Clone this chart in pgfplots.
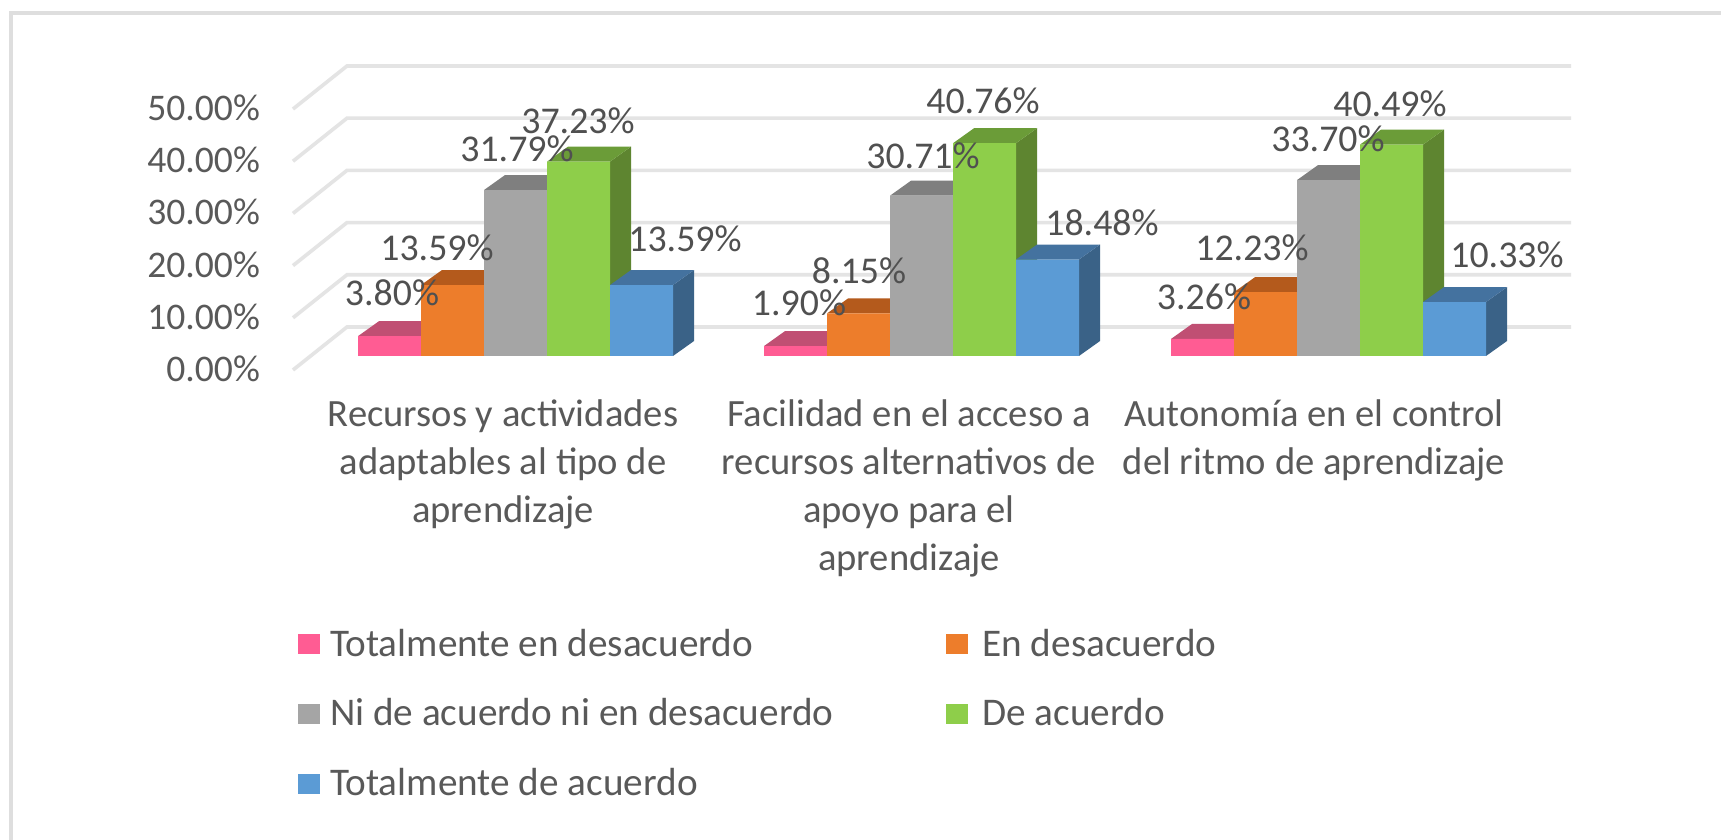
\documentclass[border=0pt]{standalone}
\usepackage{pgfplots}
\pgfplotsset{compat=1.18}
\usepackage{fontspec}
\setmainfont{Carlito}
\definecolor{txt}{HTML}{595959}
\definecolor{lab}{HTML}{505050}
\definecolor{gridc}{HTML}{E4E4E4}
\definecolor{frameC}{HTML}{DEDEDE}
\definecolor{pinkF}{HTML}{FF5C93}\definecolor{pinkT}{HTML}{C04F73}
\definecolor{oranF}{HTML}{ED7D2B}\definecolor{oranT}{HTML}{B45A1C}
\definecolor{grayF}{HTML}{A5A5A5}\definecolor{grayT}{HTML}{7F7F7F}
\definecolor{greeF}{HTML}{8ECE4A}\definecolor{greeT}{HTML}{6B9C38}\definecolor{greeS}{HTML}{5E8530}
\definecolor{blueF}{HTML}{5B9BD5}\definecolor{blueT}{HTML}{44729F}\definecolor{blueS}{HTML}{3A6287}
% 1 px of the reference = 0.5pt; y axis of bars: 5.22 px per percentage point
\pgfmathsetmacro{\dpx}{21}
\pgfmathsetmacro{\dpy}{2.87}
\pgfmathsetmacro{\bw}{63}
% top and side faces of one bar: {top colour}{side colour}{left x}{value}
\newcommand\faces[4]{%
  \pgfmathsetmacro{\xa}{#3}\pgfmathsetmacro{\xb}{#3+\bw}
  \pgfmathsetmacro{\xc}{#3+\dpx}\pgfmathsetmacro{\xd}{#3+\bw+\dpx}
  \pgfmathsetmacro{\yt}{#4+\dpy}
  \edef\tmp{\noexpand\addplot[fill=#2,draw=none,forget plot] coordinates {(\xb,0) (\xd,\dpy) (\xd,\yt) (\xb,#4)} --cycle;
  \noexpand\addplot[fill=#1,draw=none,forget plot] coordinates {(\xa,#4) (\xc,\yt) (\xd,\yt) (\xb,#4)} --cycle;}\tmp}
\newcommand\lab[3]{\node[text=lab,font=\dfont,inner sep=0pt] at (axis cs:#1,{(356-#2)/5.22}) {#3};}
\newcommand\dfont{\fontsize{18.9}{22}\selectfont}
\pgfplotsset{swatch/.style={legend image code/.code={\fill[##1] (0pt,-5pt) rectangle (11pt,5pt);}}}
\begin{document}
\begin{tikzpicture}[x=1pt,y=1pt]
\path[use as bounding box] (0,0) rectangle (860.5,420);
\fill[white] (0,0) rectangle (860.5,420);
\draw[frameC,line width=2pt] (5.5,0) -- (5.5,413.5) -- (860.5,413.5);
% walls, gridlines and the value axis
\begin{axis}[
  at={(146.5pt,235pt)},anchor=south west,
  scale only axis,width=639pt,height=130.5pt,
  xmin=293,xmax=1571,ymin=0,ymax=50,clip=false,
  axis line style={draw=none},
  major tick length=0pt,
  xtick={503,909,1314},
  xticklabels={Recursos y actividades\\adaptables al tipo de\\aprendizaje,
    Facilidad en el acceso a\\recursos alternativos de\\apoyo para el\\aprendizaje,
    Autonomía en el control\\del ritmo de aprendizaje},
  xticklabel style={align=center,text=txt,font=\fontsize{19.3}{23.9}\selectfont,yshift=-11.5pt,anchor=north},
  ytick={0,10,20,30,40,50},
  yticklabels={0.00\%,10.00\%,20.00\%,30.00\%,40.00\%,50.00\%},
  yticklabel style={text=txt,font=\fontsize{18.8}{22}\selectfont,xshift=-13pt,anchor=east,yshift=0.6pt},
]
\addplot[gridc,line width=1.8pt,forget plot] coordinates {(293,0) (347,8.24) (1571,8.24)};
\addplot[gridc,line width=1.8pt,forget plot] coordinates {(293,10) (347,18.24) (1571,18.24)};
\addplot[gridc,line width=1.8pt,forget plot] coordinates {(293,20) (347,28.24) (1571,28.24)};
\addplot[gridc,line width=1.8pt,forget plot] coordinates {(293,30) (347,38.24) (1571,38.24)};
\addplot[gridc,line width=1.8pt,forget plot] coordinates {(293,40) (347,48.24) (1571,48.24)};
\addplot[gridc,line width=1.8pt,forget plot] coordinates {(293,50) (347,58.24) (1571,58.24)};
\end{axis}
% the bars
\begin{axis}[
  at={(0pt,0pt)},anchor=south west,
  scale only axis,width=860.5pt,height=420pt,
  xmin=0,xmax=1721,ymin=-92.72,ymax=68.2,clip=false,
  hide axis,
  legend columns=2,
  legend cell align=left,
  legend style={at={(axis cs:298,-51.5)},anchor=north west,draw=none,fill=none,
    font=\fontsize{19.6}{22}\selectfont,text=txt,inner sep=0pt,outer sep=0pt,
    row sep=15.8pt,
    /tikz/every odd column/.append style={column sep=3pt},
    /tikz/every even column/.append style={column sep=2pt}},
]
% Totalmente en desacuerdo
\faces{pinkT}{pinkT}{358}{3.80}\faces{pinkT}{pinkT}{764}{1.90}\faces{pinkT}{pinkT}{1171}{3.26}
\addplot[ybar,bar width=31.5pt,bar shift=0pt,fill=pinkF,draw=none,swatch] coordinates {(389.5,3.80) (795.5,1.90) (1202.5,3.26)};
\addlegendentry{\makebox[304pt][l]{Totalmente en desacuerdo}}
% En desacuerdo
\faces{oranT}{oranT}{421}{13.59}\faces{oranT}{oranT}{827}{8.15}\faces{oranT}{oranT}{1234}{12.23}
\addplot[ybar,bar width=31.5pt,bar shift=0pt,fill=oranF,draw=none,swatch] coordinates {(452.5,13.59) (858.5,8.15) (1265.5,12.23)};
\addlegendentry{\hspace{2.2pt}En desacuerdo}
% Ni de acuerdo ni en desacuerdo
\faces{grayT}{grayT}{484}{31.79}\faces{grayT}{grayT}{890}{30.71}\faces{grayT}{grayT}{1297}{33.70}
\addplot[ybar,bar width=31.5pt,bar shift=0pt,fill=grayF,draw=none,swatch] coordinates {(515.5,31.79) (921.5,30.71) (1328.5,33.70)};
\addlegendentry{\makebox[304pt][l]{Ni de acuerdo ni en desacuerdo}}
% De acuerdo
\faces{greeT}{greeS}{547}{37.23}\faces{greeT}{greeS}{953}{40.76}\faces{greeT}{greeS}{1360}{40.49}
\addplot[ybar,bar width=31.5pt,bar shift=0pt,fill=greeF,draw=none,swatch] coordinates {(578.5,37.23) (984.5,40.76) (1391.5,40.49)};
\addlegendentry{\hspace{2.2pt}De acuerdo}
% Totalmente de acuerdo
\faces{blueT}{blueS}{610}{13.59}\faces{blueT}{blueS}{1016}{18.48}\faces{blueT}{blueS}{1423}{10.33}
\addplot[ybar,bar width=31.5pt,bar shift=0pt,fill=blueF,draw=none,swatch] coordinates {(641.5,13.59) (1047.5,18.48) (1454.5,10.33)};
\addlegendentry{\makebox[304pt][l]{Totalmente de acuerdo}}
\lab{392}{293}{3.80\%}
\lab{437}{248}{13.59\%}
\lab{517}{149}{31.79\%}
\lab{578}{121}{37.23\%}
\lab{685}{239}{13.59\%}
\lab{799}{303}{1.90\%}
\lab{859}{271}{8.15\%}
\lab{923}{156}{30.71\%}
\lab{983}{101}{40.76\%}
\lab{1102}{223}{18.48\%}
\lab{1204}{297}{3.26\%}
\lab{1252}{248}{12.23\%}
\lab{1328}{139}{33.70\%}
\lab{1390}{104}{40.49\%}
\lab{1507}{255}{10.33\%}
\end{axis}
\end{tikzpicture}
\end{document}
